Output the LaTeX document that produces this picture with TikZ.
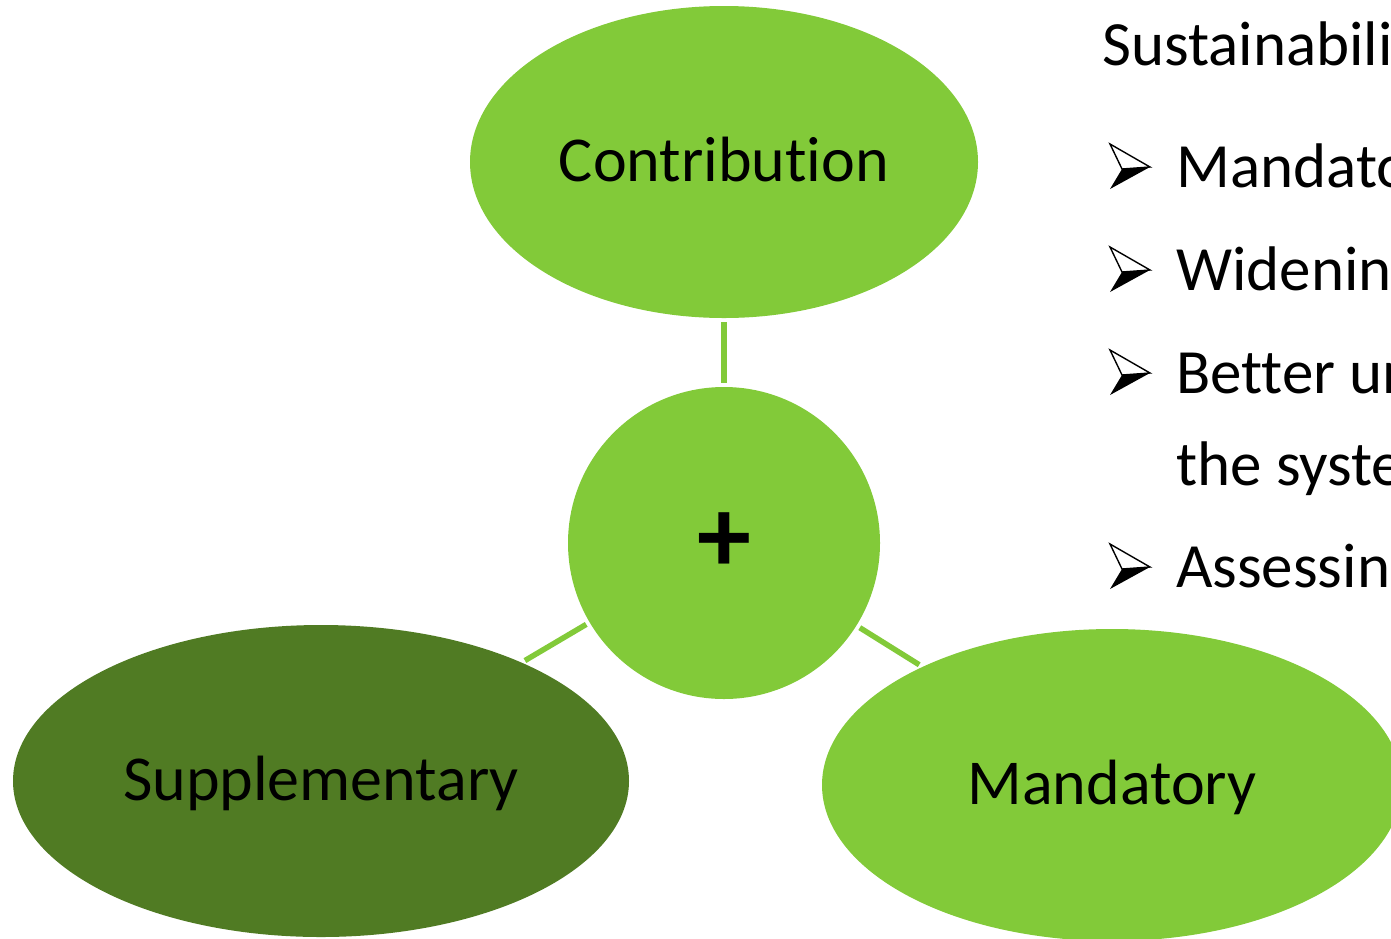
\documentclass[tikz,border=0pt]{standalone}
\usepackage{fontspec}
\setmainfont[Ligatures={NoCommon}]{Carlito}
\usetikzlibrary{shapes.geometric}
\definecolor{lgreen}{HTML}{82CA39}
\definecolor{dgreen}{HTML}{507B23}
\begin{document}
\begin{tikzpicture}[x=1pt,y=-1pt,
  bubble/.style={ellipse, fill=lgreen, draw=none, inner sep=0pt, outer sep=0pt,
    text height=39pt, text depth=0pt, font=\fontsize{64}{76}\selectfont},
  conn/.style={draw=lgreen, line width=5.5pt, shorten <=4pt, shorten >=4pt},
  txt/.style={anchor=base west, inner sep=0pt, font=\fontsize{63}{76}\selectfont},
  arrowbullet/.pic={
    \filldraw[fill=white, draw=black, line width=1.4pt, line join=miter]
      (0,-43) -- (40,-20) -- (12,-18) -- cycle;
    \fill[black] (12,-18) -- (40,-20) -- (0,2) -- cycle;
  }]
\useasboundingbox (0,0) rectangle (1391,938);
\clip (0,0) rectangle (1391,938);
\node[bubble, minimum width=508pt, minimum height=312pt] (contrib) at (724,162) {Contribution};
\node[circle, fill=lgreen, draw=none, inner sep=0pt, outer sep=0pt, minimum size=312pt,
  font=\bfseries\fontsize{108}{108}\selectfont] (plus) at (724,543) {+};
\node[bubble, fill=dgreen, minimum width=616pt, minimum height=312pt] (supp) at (321,781) {Supplementary};
\node[bubble, minimum width=580pt, minimum height=312pt] (mand) at (1112,785) {Mandatory};
\draw[conn] (contrib) -- (plus);
\draw[conn] (plus) -- (supp);
\draw[conn] (plus) -- (mand);
\node[txt] (t0) at (1102,65) {Sustainability};
\pic at (1110,187) {arrowbullet};
\node[txt] (t1) at (1176,187) {Mandatory};
\pic at (1110,290) {arrowbullet};
\node[txt] (t2) at (1176,290) {Widening};
\pic at (1110,393) {arrowbullet};
\node[txt] (t3) at (1176,393) {Better understanding};
\node[txt] (t4) at (1176,485) {the system};
\pic at (1110,587) {arrowbullet};
\node[txt] (t5) at (1176,587) {Assessing};
\end{tikzpicture}
\end{document}
